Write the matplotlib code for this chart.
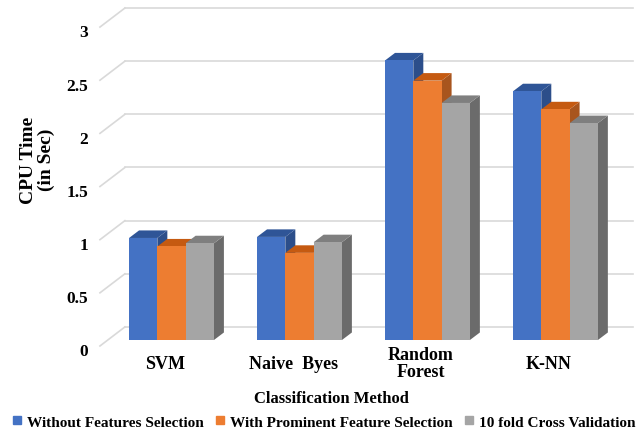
import numpy as np
import matplotlib.pyplot as plt
from matplotlib.patches import Polygon
from matplotlib.lines import Line2D

plt.rcParams['font.family'] = 'Liberation Serif'
plt.rcParams['font.weight'] = 'bold'

methods = ['SVM', 'Naive  Byes', 'Random\nForest', 'K-NN']
series = ['Without Features Selection', 'With Prominent Feature Selection', '10 fold Cross Validation']
without_fs = [0.96, 0.97, 2.63, 2.34]
prominent_fs = [0.88, 0.82, 2.44, 2.17]
cross_val = [0.91, 0.92, 2.23, 2.04]
yticks = [0, 0.5, 1, 1.5, 2, 2.5, 3]

front_cols = ['#4472C4', '#ED7D31', '#A5A5A5']
top_cols = ['#2F5597', '#C55A11', '#7F7F7F']
side_cols = ['#2C4E8A', '#A8551E', '#6B6B6B']

fig = plt.figure(figsize=(6.38, 4.35), dpi=100)
ax = fig.add_axes([0, 0, 1, 1])
ax.set_xlim(-1.34, 3.645)
ax.set_ylim(-0.884, 3.208)
ax.axis('off')

# floor / wall geometry (oblique projection)
fx0, fx1 = -0.559, 3.41      # front edge of floor
fy = -0.056                  # front edge height offset
ddx, ddy = 0.195, 0.179      # full depth offset to back wall
bdx, bdy = 0.078, 0.071      # depth of each bar
w = 0.221                    # bar width

for v in yticks:
    ax.plot([fx0, fx0 + ddx], [v + fy, v + fy + ddy], color='#d9d9d9', lw=1.2, zorder=1)
    ax.plot([fx0 + ddx, fx1 + ddx], [v + fy + ddy, v + fy + ddy], color='#d9d9d9', lw=1.2, zorder=1)
    ax.text(fx0 - 0.09, v + fy - 0.05, f'{v:g}', ha='right', va='center', fontsize=12.5)

data = [without_fs, prominent_fs, cross_val]
x = np.arange(len(methods))
z = 2
for i in range(len(methods)):
    for j in range(3):
        h = data[j][i]
        l = x[i] - 1.5 * w + j * w
        side = [(l + w, 0), (l + w, h), (l + w + bdx, h + bdy), (l + w + bdx, bdy)]
        top = [(l, h), (l + w, h), (l + w + bdx, h + bdy), (l + bdx, h + bdy)]
        ax.add_patch(Polygon(side, closed=True, fc=side_cols[j], ec='none', zorder=z))
        ax.add_patch(Polygon(top, closed=True, fc=top_cols[j], ec='none', zorder=z))
        ax.bar(l, h, width=w, align='edge', color=front_cols[j], zorder=z + 1)
        z += 2

for i, m in enumerate(methods):
    ax.text(x[i] - 0.05, -0.22, m, ha='center', va='center', fontsize=13, linespacing=1.0)

ax.text(1.25, -0.55, 'Classification Method', ha='center', va='center', fontsize=12)
ax.text(-1.05, 1.70, 'CPU Time\n(in Sec)', ha='center', va='center', rotation=90,
        fontsize=14, linespacing=1.05)

handles = [Line2D([], [], ls='none', marker='s', markersize=6, color=c) for c in front_cols]
fig.legend(handles, series, loc='center', bbox_to_anchor=(0.507, 0.028), ncol=3, frameon=False,
           fontsize=11, handlelength=0.7, handletextpad=0.3, columnspacing=0.7,
           borderaxespad=0)

fig.savefig('out.png', dpi=100)
